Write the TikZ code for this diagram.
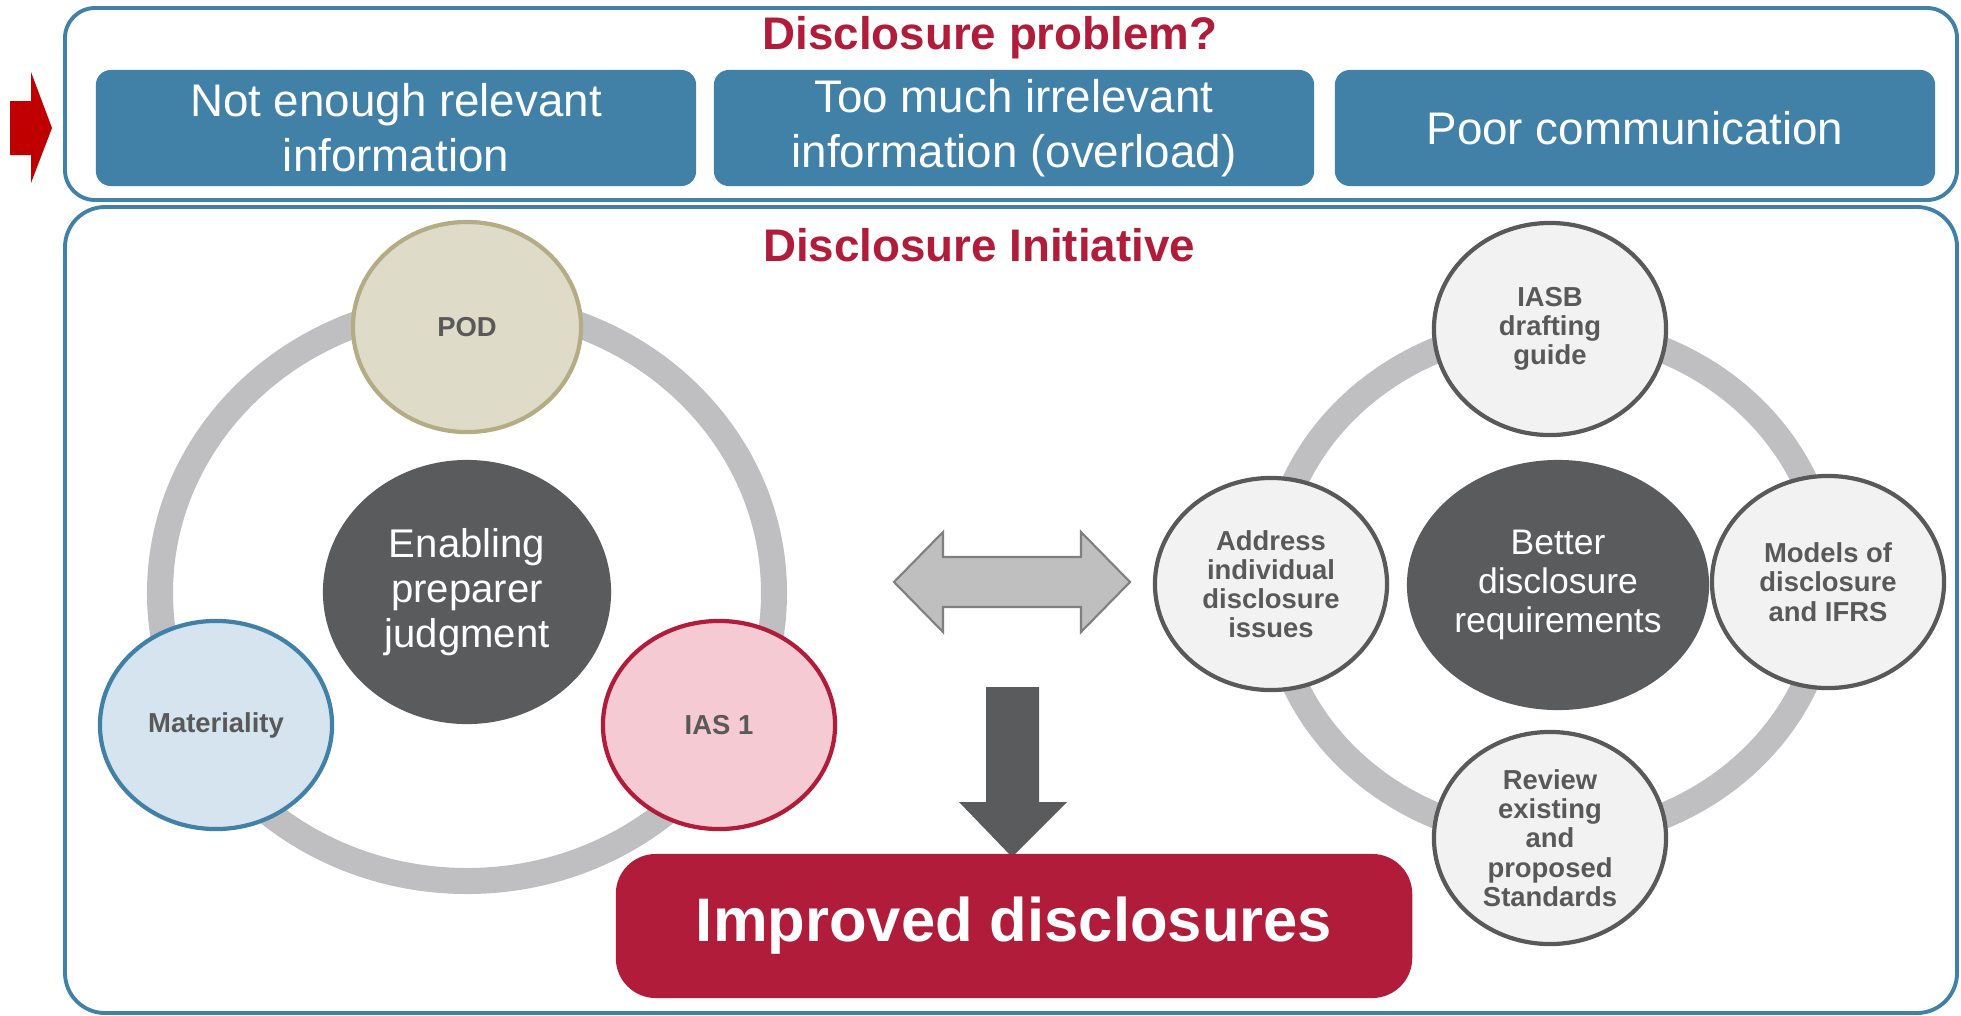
\documentclass[tikz,border=0pt]{standalone}
\usepackage{fontspec}
\setmainfont{Liberation Sans}
\usetikzlibrary{shapes.geometric}
\definecolor{ifrsblue}{RGB}{65,129,168}
\definecolor{ifrsred}{RGB}{176,28,58}
\definecolor{hubgray}{RGB}{90,91,93}
\definecolor{ringgray}{RGB}{191,191,193}
\definecolor{bubblegray}{RGB}{242,242,242}
\definecolor{edgegray}{RGB}{89,89,89}
\definecolor{textgray}{RGB}{89,89,89}
\definecolor{podfill}{RGB}{222,219,200}
\definecolor{podborder}{RGB}{180,172,132}
\definecolor{matfill}{RGB}{213,228,238}
\definecolor{iasfill}{RGB}{245,202,210}
\definecolor{arrowgray}{RGB}{191,191,191}
\definecolor{arrowedge}{RGB}{127,127,127}
\definecolor{arrowred}{RGB}{192,0,0}

\begin{document}
\begin{tikzpicture}[x=0.01cm, y=0.01cm]
\tikzstyle{every node}+=[inner sep=0pt]
\tikzstyle{probbox}=[fill=ifrsblue, rounded corners=0.15cm, minimum width=6cm, minimum height=1.16cm, text=white, align=center, font=\fontsize{13}{15.6}\selectfont]
\tikzstyle{bubble}=[ellipse, minimum width=2.32cm, minimum height=2.12cm, line width=1.2pt, align=center, text=textgray, font=\fontsize{7.8}{8.3}\selectfont\bfseries]
\tikzstyle{hub}=[ellipse, fill=hubgray, text=white, align=center]
\tikzstyle{ring}=[draw=ringgray, line width=7.4pt]
\tikzstyle{title}=[text=ifrsred, anchor=base, font=\fontsize{13}{15}\selectfont\bfseries]
\useasboundingbox (0,0) rectangle (1961,-1015);
% frames
\draw [ifrsblue, line width=1.1pt, rounded corners=0.3cm] (65,-8) rectangle (1957,-200);
\draw [ifrsblue, line width=1.1pt, rounded corners=0.4cm] (65,-207) rectangle (1957,-1013);
\fill [arrowred] (10,-101) -- (31,-101) -- (31,-72) -- (52,-128) -- (31,-183) -- (31,-155) -- (10,-155) -- cycle;
% problem row
\node [title] (probtitle) at (990,-49) {Disclosure problem?};
\node [probbox] (notenough) at (396,-128) {Not enough relevant\\information};
\node [probbox] (toomuch) at (1014,-128) {Too much irrelevant\\information (overload)};
\node [probbox] (poorcomm) at (1635,-128) {Poor communication};
% initiative
\node [title] (inittitle) at (979,-261) {Disclosure Initiative};
\draw [ring] (467,-593) ellipse (307 and 288);
\draw [ring] (1550,-583) ellipse (278 and 255);
\node [hub, minimum width=2.88cm, minimum height=2.64cm, font=\fontsize{11.4}{12.8}\selectfont] (enabling) at (467,-592) {Enabling\\preparer\\judgment};
\node [bubble, draw=podborder, fill=podfill, minimum width=2.28cm, minimum height=2.1cm] (pod) at (467,-327) {POD};
\node [bubble, draw=ifrsblue, fill=matfill, minimum height=2.08cm] (materiality) at (216,-725) {Materiality};
\node [bubble, draw=ifrsred, fill=iasfill, minimum height=2.08cm] (ias) at (719,-725) {IAS 1};
\node [hub, minimum width=3.02cm, minimum height=2.5cm, font=\fontsize{10.1}{11.2}\selectfont] (better) at (1558,-585) {Better\\disclosure\\requirements};
\node [bubble, draw=edgegray, fill=bubblegray] (iasb) at (1550,-329) {IASB\\drafting\\guide};
\node [bubble, draw=edgegray, fill=bubblegray] (address) at (1271,-584) {Address\\individual\\disclosure\\issues};
\node [bubble, draw=edgegray, fill=bubblegray] (models) at (1828,-582) {Models of\\disclosure\\and IFRS};
\node [bubble, draw=edgegray, fill=bubblegray] (review) at (1550,-838) {Review\\existing\\and\\proposed\\Standards};
% arrows
\draw [arrowedge, fill=arrowgray, line width=0.6pt] (894,-582) -- (943,-532) -- (943,-557) -- (1081,-557) -- (1081,-532) -- (1130,-582) -- (1081,-632) -- (1081,-607) -- (943,-607) -- (943,-632) -- cycle;
\fill [hubgray] (986,-687) -- (1039,-687) -- (1039,-802) -- (1067,-802) -- (1012,-857) -- (959,-802) -- (986,-802) -- cycle;
\node [fill=ifrsred, rounded corners=0.4cm, minimum width=7.96cm, minimum height=1.44cm, text=white, font=\fontsize{17.5}{20}\selectfont\bfseries] (improved) at (1014,-926) {Improved disclosures};
\end{tikzpicture}
\end{document}
